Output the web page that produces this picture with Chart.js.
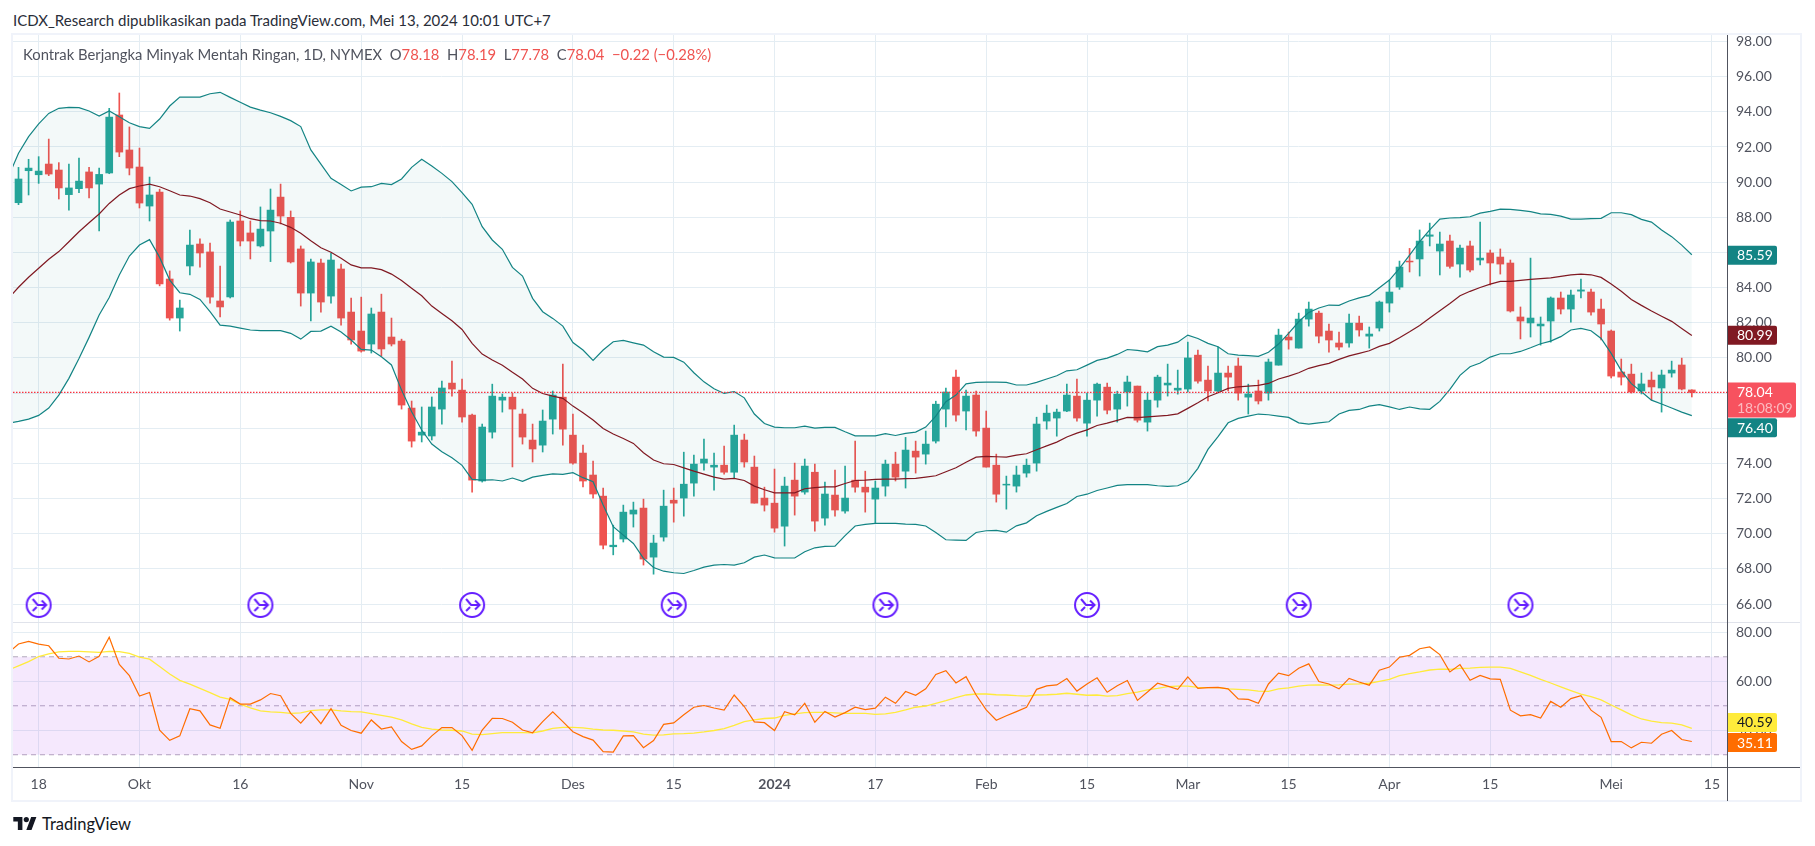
<!DOCTYPE html>
<html>
<head>
<meta charset="utf-8">
<title>Kontrak Berjangka Minyak Mentah Ringan</title>
<script src="https://cdn.jsdelivr.net/npm/chart.js@4/dist/chart.umd.js"></script>
<style>
    body { margin: 0; background: #fff; width: 1815px; height: 846px; overflow: hidden; font-family: Lato, sans-serif; }
    canvas { position: absolute; left: 0; }
    .line { position: absolute; }
    .text { position: absolute; white-space: pre; }
    #title { left: 13px; top: 11px; font-size: 15px; line-height: 18px; color: #2a2e39; }
    #legend { left: 23px; top: 45px; font-size: 14.8px; line-height: 18px; color: #50535e; }
    #legend b { font-weight: normal; color: #ef5350; }
    #brand { left: 42px; top: 814px; font-size: 16.5px; line-height: 20px; color: #131722; }
</style>
</head>
<body>
<div id="title" class="text">ICDX_Research dipublikasikan pada TradingView.com, Mei 13, 2024 10:01 UTC+7</div>
<canvas id="priceChart" width="1815" height="587" style="top:35px"></canvas>
<canvas id="rsiChart" width="1815" height="180" style="top:622px"></canvas>
<div class="line" style="left:11px;top:33px;width:1791px;height:2px;background:#f0f3fa"></div>
<div class="line" style="left:11px;top:800px;width:1791px;height:2px;background:#f0f3fa"></div>
<div class="line" style="left:11px;top:33px;width:2px;height:769px;background:#f0f3fa"></div>
<div class="line" style="left:1800px;top:33px;width:2px;height:769px;background:#f0f3fa"></div>
<div class="line" style="left:13px;top:622px;width:1787px;height:1px;background:#e0e3eb"></div>
<div class="line" style="left:1727px;top:35px;width:1px;height:766px;background:#50535e"></div>
<div class="line" style="left:13px;top:767px;width:1787px;height:1px;background:#50535e"></div>
<div id="legend" class="text">Kontrak Berjangka Minyak Mentah Ringan, 1D, NYMEX  O<b>78.18</b>  H<b>78.19</b>  L<b>77.78</b>  C<b>78.04</b>  <b>−0.22 (−0.28%)</b></div>
<svg style="position:absolute;left:13px;top:817px" width="24" height="13" viewBox="0 0 36 20"><path fill="#131722" d="M14 20H7V7H0V0h14v20zM28 20h-8L27.5 0h8L28 20z"/><circle fill="#131722" cx="20" cy="4" r="4"/></svg>
<div id="brand" class="text">TradingView</div>

<script>
// daily candles, bar 0 .. 166
const opens = [88.83,90.65,90.42,91.03,90.69,89.29,89.63,90.58,89.89,90.52,93.82,91.83,90.86,88.64,89.44,84.49,82.27,85.23,86.48,86.03,
    83.24,83.47,87.79,87.11,86.37,87.22,89.15,88.00,86.20,83.69,85.40,83.52,85.06,82.61,81.53,80.79,82.61,81.19,80.96,77.15,
    75.61,75.56,77.09,78.57,78.17,76.75,73.00,75.78,77.60,77.77,76.81,75.33,75.04,76.52,77.77,75.61,74.59,73.34,72.14,69.26,
    69.70,71.12,71.46,68.67,69.81,71.91,72.03,72.88,74.02,73.79,73.90,73.50,75.33,73.79,72.03,71.74,70.43,73.05,72.37,73.50,
    70.89,72.20,71.29,73.05,72.65,71.97,72.71,73.96,73.56,74.70,74.53,75.27,77.09,78.91,76.98,77.89,76.01,73.90,72.77,72.71,
    73.45,74.02,76.41,76.58,76.98,77.83,76.29,77.60,78.34,77.09,78.06,78.40,76.35,77.60,78.46,78.17,78.23,80.16,78.74,78.12,
    79.14,79.54,77.77,78.12,78.00,79.59,81.19,80.56,82.21,82.55,81.53,80.85,80.85,81.98,81.24,81.70,83.12,84.03,85.51,85.63,
    86.92,86.08,86.65,85.34,86.37,85.57,85.97,85.74,85.40,82.33,81.99,81.82,82.10,83.41,82.78,83.80,83.75,82.78,81.53,79.20,
    79.08,78.12,78.74,78.29,79.14,79.60,78.18];
const highs = [90.84,91.30,91.45,92.45,91.11,91.03,91.37,90.84,90.80,94.20,95.07,93.14,91.94,90.29,89.60,84.95,83.29,87.28,86.77,86.54,
    85.23,87.85,88.36,87.79,88.59,89.61,89.89,88.36,86.37,85.63,85.63,85.95,85.34,83.41,83.46,82.84,83.63,82.27,81.07,77.55,
    77.21,77.78,78.69,79.82,78.80,76.81,76.24,78.51,77.95,78.00,77.09,76.24,77.04,78.12,79.65,76.81,75.04,74.13,72.60,70.49,
    71.63,71.80,71.97,69.92,72.48,72.60,74.64,74.47,75.38,74.59,74.99,76.18,75.67,74.42,72.65,73.68,73.22,74.02,74.25,73.96,
    72.94,73.62,73.85,75.27,73.56,73.00,74.19,74.64,75.48,75.27,75.84,77.54,78.28,79.31,78.17,78.11,76.98,74.53,73.28,73.85,
    74.25,76.63,77.32,77.09,78.51,78.80,78.00,78.57,78.57,78.11,78.97,78.40,78.00,79.02,79.65,79.31,80.90,80.45,79.54,80.62,
    79.54,80.00,78.51,78.74,79.94,81.64,81.47,82.55,83.18,82.67,81.93,81.47,82.50,82.38,81.76,83.24,84.43,85.51,86.23,87.28,
    87.67,87.16,86.99,86.42,86.65,87.73,86.14,86.20,85.57,82.90,85.68,82.33,83.47,83.75,83.86,84.49,83.92,83.35,81.59,79.94,
    79.65,79.14,79.20,79.31,79.82,79.99,78.19];
const lows = [88.72,89.27,89.93,90.37,89.04,88.41,89.40,89.10,87.23,90.48,91.45,90.41,88.53,87.79,84.10,82.15,81.53,84.72,85.17,83.12,
    82.33,83.41,86.37,85.63,86.31,85.48,87.62,85.40,82.95,82.10,82.61,83.12,81.87,80.79,80.33,80.28,80.11,80.68,77.09,74.93,
    75.22,75.33,76.24,77.83,76.35,72.37,72.94,75.44,76.92,73.80,75.10,74.08,74.65,75.67,75.04,73.96,72.66,72.03,69.13,68.80,
    69.53,70.38,68.22,67.70,69.58,70.66,71.00,72.14,73.62,72.48,73.39,73.17,73.79,71.74,71.29,70.09,69.30,71.06,72.25,70.15,
    70.49,71.00,71.17,72.37,71.23,70.59,72.14,73.00,72.60,73.45,73.96,75.16,76.07,76.41,75.90,75.55,73.79,71.80,71.40,72.37,
    73.22,73.56,75.95,75.55,76.94,76.41,75.55,76.69,76.81,76.35,77.26,76.35,75.84,77.20,77.83,77.94,78.06,78.57,77.55,78.08,
    78.12,77.60,76.81,77.38,77.60,79.59,80.50,80.56,81.81,80.85,80.33,80.45,80.62,81.24,80.56,81.53,82.61,83.90,84.89,84.66,
    86.37,84.72,85.10,84.60,84.89,85.29,84.15,84.77,82.61,81.08,81.19,80.73,80.90,82.50,82.04,83.41,82.44,81.02,78.86,78.46,
    78.00,77.95,77.60,76.92,78.91,78.18,77.78];
const closes = [90.18,90.80,90.63,90.46,89.67,89.67,90.06,89.67,90.44,93.70,91.71,90.80,88.81,89.27,84.21,82.27,82.84,86.42,85.97,83.46,
    82.90,87.73,86.65,86.65,87.33,88.41,88.07,85.46,83.69,85.46,83.18,85.57,82.27,81.02,80.39,82.50,80.51,80.79,77.32,75.27,
    75.78,77.21,78.29,78.23,76.64,73.05,76.07,77.83,77.77,77.09,75.50,74.82,76.41,77.89,75.95,74.02,73.00,72.26,69.35,69.35,
    71.23,71.35,68.56,69.47,71.57,71.74,72.82,73.96,74.25,73.90,73.50,75.61,74.08,71.74,71.63,70.32,72.71,72.14,73.85,70.72,
    72.26,71.35,72.03,72.65,72.37,72.60,73.96,73.22,74.76,74.36,75.10,77.37,78.06,76.75,77.83,75.84,73.79,72.25,72.82,73.34,
    73.90,76.24,76.86,76.92,77.89,76.58,77.60,78.51,77.03,77.94,78.63,76.46,77.60,78.91,78.57,78.28,80.00,78.68,78.12,79.14,
    78.91,78.00,77.95,77.55,79.77,81.30,81.02,82.21,82.78,81.24,81.02,80.62,81.98,81.59,81.36,83.18,83.75,85.17,85.46,86.65,
    87.00,86.48,85.21,86.25,85.00,85.68,85.40,85.34,82.67,82.10,82.27,81.93,83.41,82.78,83.58,83.87,82.61,81.93,78.97,78.91,
    78.06,78.52,78.35,79.03,79.31,78.23,78.04];

// indicator series start one bar earlier (bar -1) so they reach the left edge of the pane
const bbUpper = [90.31,91.64,92.59,93.31,93.91,94.20,94.25,94.24,94.05,93.76,94.05,93.72,93.38,93.16,93.06,93.59,94.33,94.84,94.84,94.84,95.03,
    95.11,94.82,94.54,94.27,94.10,93.95,93.74,93.50,93.16,91.83,91.03,90.22,89.87,89.50,89.72,89.74,89.93,89.86,90.18,90.84,
    91.30,90.92,90.50,90.03,89.40,88.74,87.47,86.71,86.18,85.15,84.66,83.39,82.63,82.25,81.81,80.88,80.45,79.86,80.45,80.92,
    81.00,80.86,80.73,80.35,80.05,80.03,79.76,79.16,78.64,78.25,77.98,78.09,77.73,76.81,76.27,76.07,76.03,76.03,76.12,76.01,
    76.05,76.05,75.80,75.57,75.57,75.57,75.69,75.59,75.71,75.78,76.07,76.69,77.51,77.89,78.53,78.61,78.63,78.63,78.61,78.46,
    78.46,78.61,78.80,78.99,79.27,79.33,79.59,79.86,79.99,80.20,80.48,80.43,80.35,80.64,80.73,80.90,81.30,81.11,80.83,80.64,
    80.24,80.16,80.13,80.09,80.32,80.79,81.40,82.06,82.59,82.84,83.01,82.99,83.24,83.42,83.56,83.99,84.43,85.09,85.85,86.61,
    87.28,87.90,87.96,87.98,88.03,88.24,88.34,88.47,88.45,88.39,88.32,88.20,88.17,88.07,87.90,87.90,87.92,87.94,88.26,88.26,
    88.15,87.88,87.73,87.28,86.90,86.42,85.87];
const bbBasis = [83.39,84.02,84.59,85.10,85.61,86.05,86.61,87.18,87.69,88.19,88.79,89.27,89.63,89.78,89.89,89.74,89.51,89.27,89.21,89.06,88.83,
    88.47,88.30,88.13,87.92,87.81,87.79,87.66,87.43,87.09,86.67,86.27,86.01,85.67,85.29,85.12,85.12,85.02,84.77,84.40,83.96,
    83.54,82.95,82.53,82.12,81.62,80.83,80.22,79.88,79.58,79.18,78.80,78.27,77.98,77.83,77.70,77.26,76.88,76.47,75.99,75.67,
    75.42,75.14,74.61,74.19,73.98,73.94,73.75,73.56,73.39,73.22,73.11,73.15,73.03,72.71,72.50,72.33,72.33,72.33,72.56,72.62,
    72.67,72.67,72.86,73.03,73.05,73.09,73.11,73.11,73.13,73.15,73.22,73.30,73.53,73.75,74.07,74.36,74.40,74.38,74.36,74.47,
    74.55,74.78,75.00,75.21,75.50,75.72,75.91,76.16,76.29,76.45,76.62,76.60,76.65,76.69,76.73,76.82,77.13,77.45,77.79,78.02,
    78.27,78.36,78.40,78.44,78.55,78.80,78.97,79.16,79.41,79.56,79.69,79.92,80.12,80.26,80.41,80.66,80.83,81.15,81.49,81.85,
    82.27,82.69,83.10,83.54,83.79,84.01,84.20,84.36,84.36,84.41,84.47,84.51,84.56,84.64,84.73,84.77,84.73,84.58,84.20,83.79,
    83.33,82.99,82.67,82.37,82.08,81.68,81.28];
const bbLower = [76.28,76.39,76.52,76.73,77.15,77.89,78.84,79.97,81.17,82.44,83.44,84.72,85.80,86.42,86.73,85.72,84.43,83.71,83.62,83.33,82.63,
    81.87,81.81,81.70,81.59,81.55,81.55,81.55,81.40,81.07,81.51,81.53,81.81,81.47,81.02,80.49,80.45,80.07,79.60,78.17,76.94,
    75.90,75.10,74.67,74.32,73.89,73.09,73.05,73.07,73.00,73.17,72.98,73.22,73.32,73.41,73.38,73.47,73.19,72.96,71.63,70.40,
    69.92,69.45,68.60,68.08,67.87,67.78,67.74,67.91,68.10,68.22,68.25,68.22,68.35,68.67,68.79,68.63,68.62,68.62,68.98,69.20,
    69.28,69.30,69.89,70.44,70.53,70.59,70.59,70.59,70.55,70.53,70.44,70.07,69.66,69.64,69.62,70.07,70.17,70.19,70.09,70.45,
    70.62,71.02,71.27,71.50,71.72,72.12,72.25,72.46,72.60,72.75,72.79,72.79,72.79,72.73,72.69,72.73,72.98,73.72,74.80,75.52,
    76.31,76.56,76.69,76.81,76.77,76.69,76.62,76.31,76.24,76.31,76.37,76.81,77.02,77.07,77.26,77.34,77.22,77.07,77.21,77.10,
    77.08,77.53,78.21,79.01,79.50,79.71,80.05,80.24,80.24,80.37,80.58,80.81,80.96,81.21,81.59,81.68,81.55,81.11,80.26,79.28,
    78.54,78.08,77.60,77.38,77.15,76.92,76.72];
const rsi = [71.7,75.2,76.3,75.2,74.5,69.4,69.1,70.3,67.9,70.2,78.0,66.9,62.3,54.0,55.4,40.0,35.9,37.7,48.8,47.9,42.2,
    40.8,53.3,50.7,50.7,52.4,55.0,54.1,46.9,42.9,47.6,42.7,48.8,42.0,39.9,38.8,44.2,40.5,41.4,35.4,32.2,
    33.6,37.7,41.1,41.1,37.8,31.8,40.1,44.9,44.8,43.3,40.1,39.0,43.5,47.5,43.5,39.4,37.4,36.0,31.3,31.1,
    37.7,37.8,32.9,35.8,42.4,43.0,46.3,49.4,50.1,49.1,48.2,54.4,49.7,43.4,43.1,39.9,47.6,46.3,51.0,43.3,
    47.7,45.4,47.2,49.4,48.4,49.0,53.5,51.0,55.8,54.3,56.9,62.8,64.3,59.3,61.9,54.4,48.3,44.1,45.9,47.6,
    49.4,56.7,58.1,58.5,61.1,56.0,58.9,61.4,55.5,58.2,60.3,52.2,55.6,59.2,58.0,56.7,61.8,57.1,57.4,57.5,
    56.9,52.8,52.6,51.0,58.9,63.3,62.3,65.3,67.1,59.9,58.9,56.9,61.2,59.7,58.4,64.5,65.8,69.8,70.6,73.3,
    74.0,70.9,63.8,66.8,60.4,62.4,61.0,60.8,48.2,45.9,46.4,45.0,51.8,49.4,52.9,54.1,48.2,45.3,35.4,35.4,
    32.8,35.1,34.7,38.4,39.9,36.2,35.4];
const rsiMa = [64.6,66.3,68.0,70.1,71.2,72.0,72.2,72.2,72.0,71.8,72.2,72.1,71.4,69.9,69.0,66.0,63.0,60.4,58.8,57.1,55.4,
    53.5,52.6,50.7,49.1,47.9,47.5,47.3,46.9,47.1,48.0,48.3,48.3,47.9,47.6,47.5,46.8,46.1,45.4,44.2,42.6,
    41.2,40.5,40.1,40.0,39.7,38.4,38.2,38.6,39.0,39.0,39.0,38.9,39.7,40.8,41.2,41.2,41.0,40.5,40.1,40.0,
    39.7,39.3,38.4,38.0,38.1,38.5,38.6,38.8,39.3,39.9,40.7,42.0,43.5,44.2,44.8,45.0,46.1,46.7,47.2,47.3,
    47.3,47.1,46.9,46.9,46.9,46.5,46.7,47.3,48.3,49.4,49.9,51.0,52.1,53.3,54.4,54.8,54.8,54.5,54.4,54.1,
    53.9,54.4,54.5,54.7,55.1,54.7,54.3,54.4,53.9,54.1,55.0,55.6,56.5,57.1,57.8,58.0,58.0,57.5,57.4,57.4,
    56.9,56.7,56.5,56.0,55.9,56.9,57.3,58.0,58.4,58.5,58.4,58.5,58.8,58.9,59.2,60.0,60.8,62.3,63.1,63.8,
    64.6,65.0,64.9,65.3,65.4,65.7,65.8,65.8,65.3,63.8,62.4,60.8,59.3,57.7,56.2,54.8,53.7,52.4,50.3,48.3,
    46.3,44.6,43.7,43.1,42.9,42.2,40.8];

// axes and marks
const timeBars = [2,12,22,34,44,55,65,75,85,96,106,116,126,136,146,158,168];
const timeLabels = ['18','Okt','16','Nov','15','Des','15','2024','17','Feb','15','Mar','15','Apr','15','Mei','15'];
const priceTicks = [66,68,70,72,74,76,78,80,82,84,86,88,90,92,94,96,98];
const rsiTicks = [40,60,80];
const rsiBands = [70,50,30];
const rollBars = [2,24,45,65,86,106,127,149];
const rollLevel = 65.95;
const lastClose = 78.04;
const countdown = '18:08:09';
const bbTagText = ['85.59','80.99','76.40'];
const bbTagAt = [85.84,81.29,76.03];
const rsiTagText = ['40.59','35.11'];
const rsiTagAt = [43.2,35.0];

const xMin = -0.546, xMax = 169.49;
const up = '#26a69a', down = '#ef5350', teal = '#138484', gridCol = '#e4edf3', tickCol = '#50535e';
const tickFont = { family: 'Lato, sans-serif', size: 14 };
const allBars = opens.map((o, i) => i);
const candleCols = opens.map((o, i) => closes[i] >= o ? up : down);

function series(values) {
    return values.map((v, i) => ({ x: i - 1, y: v }));
}
function hline(level) {
    return [{ x: xMin, y: level }, { x: xMax, y: level }];
}
function timeAxis(showLabels) {
    return {
        type: 'linear', min: xMin, max: xMax, offset: false,
        grid: { color: gridCol, drawTicks: false, offset: false },
        border: { display: false },
        afterBuildTicks: axis => { axis.ticks = timeBars.map(v => ({ value: v })); },
        afterFit: axis => {
            axis.height = showLabels ? 35 : 0;
            axis.paddingLeft = 0;
            axis.paddingRight = 0;
        },
        ticks: {
            display: showLabels, autoSkip: false, maxRotation: 0, padding: 9, color: tickCol,
            font: ctx => ctx.tick && ctx.tick.value === 75 ? { ...tickFont, weight: 'bold' } : tickFont,
            callback: v => timeLabels[timeBars.indexOf(v)]
        }
    };
}
function valueAxis(min, max, list) {
    return {
        position: 'right', min: min, max: max,
        grid: { color: gridCol, drawTicks: false },
        border: { display: false },
        afterBuildTicks: axis => { axis.ticks = list.map(v => ({ value: v })); },
        afterFit: axis => {
            // the scale reserves room for half a label above and below, the pane must fill its canvas
            axis.width = 88;
            axis.paddingTop = 0;
            axis.paddingBottom = 0;
        },
        ticks: { color: tickCol, font: tickFont, padding: 9, callback: v => v.toFixed(2) }
    };
}
function tag(chart, scaleId, value, text, back, fore) {
    const ctx = chart.ctx;
    const y = chart.scales[scaleId].getPixelForValue(value);
    ctx.fillStyle = back;
    ctx.beginPath();
    ctx.roundRect(1727, y - 9.5, 50, 19, [0, 2, 2, 0]);
    ctx.fill();
    ctx.fillStyle = fore;
    ctx.font = '14px Lato, sans-serif';
    ctx.textAlign = 'left';
    ctx.textBaseline = 'middle';
    ctx.fillText(text, 1737, y + 0.5);
}

// rollover marker, drawn once and used as the point style
const rollIcon = document.createElement('canvas');
rollIcon.width = 28;
rollIcon.height = 28;
(function () {
    const c = rollIcon.getContext('2d');
    c.strokeStyle = '#651fff';
    c.lineWidth = 2;
    c.beginPath();
    c.arc(14, 14, 12, 0, Math.PI * 2);
    c.stroke();
    c.beginPath();
    c.moveTo(8, 8); c.lineTo(13, 14); c.lineTo(21, 14);
    c.moveTo(17, 9.5); c.lineTo(21.5, 14); c.lineTo(17, 18.5);
    c.moveTo(8, 20); c.lineTo(12, 16);
    c.stroke();
})();

const priceTags = {
    id: 'priceTags',
    afterDraw(chart) {
        const ctx = chart.ctx;
        const y = chart.scales.y.getPixelForValue(lastClose);
        bbTagText.forEach((t, i) => {
            tag(chart, 'y', bbTagAt[i], t, i === 1 ? '#801922' : teal, '#fff');
        });
        ctx.fillStyle = '#f7525f';
        ctx.beginPath();
        ctx.roundRect(1727, y - 10, 69, 35, [0, 2, 2, 0]);
        ctx.fill();
        ctx.font = '14px Lato, sans-serif';
        ctx.textBaseline = 'middle';
        ctx.fillStyle = '#fff';
        ctx.fillText(lastClose.toFixed(2), 1737, y + 0.5);
        ctx.fillStyle = 'rgba(255,255,255,0.6)';
        ctx.fillText(countdown, 1737, y + 16.5);
    }
};
const rsiTags = {
    id: 'rsiTags',
    afterDraw(chart) {
        tag(chart, 'y', rsiTagAt[0], rsiTagText[0], '#ffeb3b', '#131722');
        tag(chart, 'y', rsiTagAt[1], rsiTagText[1], '#ff6d00', '#fff');
    }
};

const baseOptions = {
    responsive: false,
    animation: false,
    events: [],
    devicePixelRatio: 1,
    layout: { autoPadding: false, padding: { left: 13, right: 0, top: 0, bottom: 0 } },
    plugins: { legend: { display: false }, tooltip: { enabled: false } }
};

new Chart(document.getElementById('priceChart'), {
    type: 'bar',
    plugins: [priceTags],
    data: {
        datasets: [
            { type: 'line', data: hline(lastClose), borderColor: '#f7323f', borderWidth: 1.3, borderDash: [1.5, 1.5], pointRadius: 0, order: 1 },
            { type: 'line', data: series(bbBasis), borderColor: '#801922', borderWidth: 1.2, pointRadius: 0, order: 2 },
            { type: 'line', data: series(bbUpper), borderColor: teal, borderWidth: 1.2, pointRadius: 0, order: 3,
                fill: { target: 3 }, backgroundColor: 'rgba(19,132,132,0.05)' },
            { type: 'line', data: series(bbLower), borderColor: teal, borderWidth: 1.2, pointRadius: 0, order: 4 },
            { type: 'line', data: rollBars.map(b => ({ x: b, y: rollLevel })), showLine: false, pointStyle: rollIcon, pointRadius: 14, order: 0 },
            { data: allBars.map(i => ({ x: i, y: [opens[i], closes[i]] })), backgroundColor: candleCols, barThickness: 7, grouped: false, order: 5 },
            { data: allBars.map(i => ({ x: i, y: [lows[i], highs[i]] })), backgroundColor: candleCols, barThickness: 1, grouped: false, order: 6 }
        ]
    },
    options: {
        ...baseOptions,
        scales: { x: timeAxis(false), y: valueAxis(64.98, 98.37, priceTicks) }
    }
});

new Chart(document.getElementById('rsiChart'), {
    type: 'line',
    plugins: [rsiTags],
    data: {
        datasets: [
            { data: series(rsi), borderColor: '#ff6d00', borderWidth: 1.2, pointRadius: 0, order: 0 },
            { data: series(rsiMa), borderColor: '#ffeb3b', borderWidth: 1.3, pointRadius: 0, order: 1 },
            { data: hline(rsiBands[0]), borderColor: '#b2a9bb', borderWidth: 1, borderDash: [5, 4], pointRadius: 0, order: 2,
                fill: { target: 4 }, backgroundColor: 'rgba(165,47,238,0.11)' },
            { data: hline(rsiBands[1]), borderColor: '#b2a9bb', borderWidth: 1, borderDash: [5, 4], pointRadius: 0, order: 3 },
            { data: hline(rsiBands[2]), borderColor: '#b2a9bb', borderWidth: 1, borderDash: [5, 4], pointRadius: 0, order: 4 }
        ]
    },
    options: {
        ...baseOptions,
        scales: { x: timeAxis(true), y: valueAxis(25.0, 84.2, rsiTicks) }
    }
});
</script>
</body>
</html>
